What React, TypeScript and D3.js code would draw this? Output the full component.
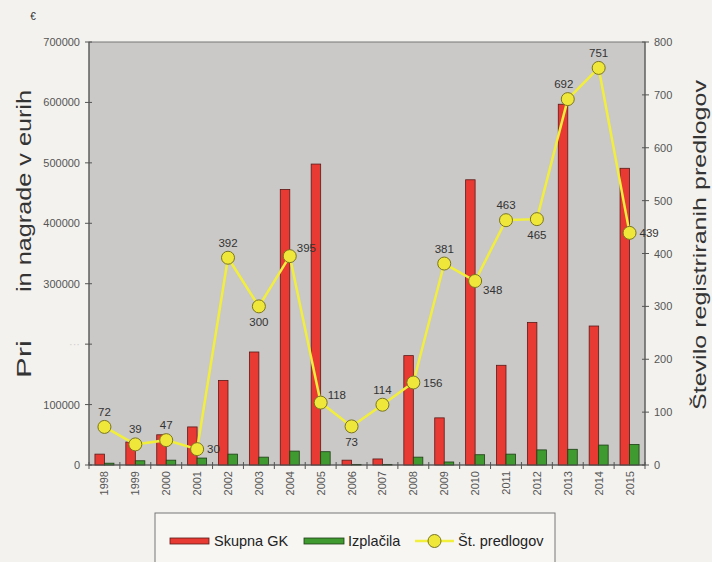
import React, { useRef, useEffect } from 'react';
import * as d3 from 'd3';

const years = ['1998', '1999', '2000', '2001', '2002', '2003', '2004', '2005', '2006', '2007', '2008', '2009', '2010', '2011', '2012', '2013', '2014', '2015'];
const skupnaGK = [18000, 38000, 50000, 63000, 140000, 187000, 456000, 498000, 8000, 10000, 181000, 78000, 472000, 165000, 236000, 597000, 230000, 491000];
const izplacila = [3000, 7000, 8000, 11500, 18000, 13000, 23000, 22000, 1000, 1000, 13000, 5000, 17000, 18000, 25000, 26000, 33000, 34000];
const predlogi = [72, 39, 47, 30, 392, 300, 395, 118, 73, 114, 156, 381, 348, 463, 465, 692, 751, 439];
// where each count label sits relative to its marker
const labelPos = ['t', 't', 't', 'r', 't', 'b', 'tr', 'tr', 'b', 't', 'r', 't', 'br', 't', 'b', 'tl', 't', 'r'];
const leftTicks = [0, 100000, 200000, 300000, 400000, 500000, 600000, 700000];
const rightTicks = [0, 100, 200, 300, 400, 500, 600, 700, 800];

const FONT = '"Liberation Sans", Arial, sans-serif';

const App: React.FC = () => {
  const svgRef = useRef<SVGSVGElement>(null);

  useEffect(() => {
    if (!svgRef.current) return;
    const svg = d3.select(svgRef.current);
    svg.selectAll('*').remove();

    const W = 712, H = 562;
    const L = 89, R = 645, T = 42, B = 465;

    svg.append('rect').attr('width', W).attr('height', H).attr('fill', '#f3f2ee');

    const x = d3.scaleBand().domain(years).range([L, R]);
    const yL = d3.scaleLinear().domain([0, 700000]).range([B, T]);
    const yR = d3.scaleLinear().domain([0, 800]).range([B, T]);

    // plot area
    svg.append('rect').attr('x', L).attr('y', T).attr('width', R - L).attr('height', B - T)
      .attr('fill', '#cac9c7').attr('stroke', '#777').attr('stroke-width', 1);

    const bw = 9.5;
    // bars
    svg.selectAll('.red').data(years).enter().append('rect')
      .attr('x', d => (x(d) || 0) + x.bandwidth() / 2 - bw)
      .attr('y', (_, i) => yL(skupnaGK[i]))
      .attr('width', bw)
      .attr('height', (_, i) => B - yL(skupnaGK[i]))
      .attr('fill', '#e83a33').attr('stroke', '#5a1a18').attr('stroke-width', 0.8);
    svg.selectAll('.green').data(years).enter().append('rect')
      .attr('x', d => (x(d) || 0) + x.bandwidth() / 2)
      .attr('y', (_, i) => yL(izplacila[i]))
      .attr('width', bw)
      .attr('height', (_, i) => B - yL(izplacila[i]))
      .attr('fill', '#3f9a2f').attr('stroke', '#1e3d16').attr('stroke-width', 0.8);

    // axes lines
    const axisColor = '#555';
    svg.append('line').attr('x1', L).attr('x2', L).attr('y1', T).attr('y2', B).attr('stroke', axisColor);
    svg.append('line').attr('x1', R).attr('x2', R).attr('y1', T).attr('y2', B).attr('stroke', axisColor);
    svg.append('line').attr('x1', L).attr('x2', R).attr('y1', B).attr('y2', B).attr('stroke', axisColor);

    // left ticks
    leftTicks.forEach(t => {
      svg.append('line').attr('x1', L - 4).attr('x2', L + 3).attr('y1', yL(t)).attr('y2', yL(t)).attr('stroke', axisColor);
      svg.append('text').attr('x', 80).attr('y', yL(t) + 4).attr('text-anchor', 'end')
        .attr('font-family', FONT).attr('font-size', 11).attr('fill', t === 200000 ? '#d0cfcb' : '#555')
        .text(t === 200000 ? '···' : String(t));
    });
    // right ticks
    rightTicks.forEach(t => {
      svg.append('line').attr('x1', R - 3).attr('x2', R + 4).attr('y1', yR(t)).attr('y2', yR(t)).attr('stroke', axisColor);
      svg.append('text').attr('x', 654).attr('y', yR(t) + 4).attr('text-anchor', 'start')
        .attr('font-family', FONT).attr('font-size', 11).attr('fill', '#555').text(String(t));
    });
    // x ticks at band boundaries
    years.concat(['end']).forEach((d, i) => {
      const xx = L + i * x.bandwidth();
      svg.append('line').attr('x1', xx).attr('x2', xx).attr('y1', B - 3).attr('y2', B + 4).attr('stroke', axisColor);
    });
    svg.selectAll('.xl').data(years).enter().append('text')
      .attr('transform', d => `translate(${(x(d) || 0) + x.bandwidth() / 2 + 4},471) rotate(-90)`)
      .attr('text-anchor', 'end').attr('font-family', FONT).attr('font-size', 11).attr('fill', '#555')
      .text(d => d);

    // line series
    const line = d3.line<number>()
      .x((_, i) => (x(years[i]) || 0) + x.bandwidth() / 2)
      .y(d => yR(d));
    svg.append('path').datum(predlogi).attr('d', line).attr('fill', 'none')
      .attr('stroke', '#f2ee3c').attr('stroke-width', 2.5);
    svg.selectAll('.pt').data(predlogi).enter().append('circle')
      .attr('cx', (_, i) => (x(years[i]) || 0) + x.bandwidth() / 2)
      .attr('cy', d => yR(d)).attr('r', 6.5)
      .attr('fill', '#efe83a').attr('stroke', '#7a7520').attr('stroke-width', 1);

    const off: Record<string, [number, number, string]> = {
      t: [0, -11, 'middle'], b: [0, 20, 'middle'], r: [10, 4, 'start'],
      tr: [7, -4, 'start'], br: [8, 13, 'start'], tl: [-4, -11, 'middle'],
    };
    svg.selectAll('.lbl').data(predlogi).enter().append('text')
      .attr('x', (_, i) => (x(years[i]) || 0) + x.bandwidth() / 2 + off[labelPos[i]][0])
      .attr('y', (d, i) => yR(d) + off[labelPos[i]][1])
      .attr('text-anchor', (_, i) => off[labelPos[i]][2])
      .attr('font-family', FONT).attr('font-size', 11.5).attr('fill', '#333')
      .text(d => String(d));

    // titles
    svg.append('text').attr('x', 33).attr('y', 20).attr('text-anchor', 'middle')
      .attr('font-family', FONT).attr('font-size', 10).attr('fill', '#333').text('€');
    svg.append('text').attr('transform', 'translate(31,292) rotate(-90)').attr('text-anchor', 'start')
      .attr('font-family', FONT).attr('font-size', 20).attr('fill', '#333')
      .attr('textLength', 202).attr('lengthAdjust', 'spacingAndGlyphs').text('in nagrade v eurih');
    svg.append('text').attr('transform', 'translate(31,378) rotate(-90)').attr('text-anchor', 'start')
      .attr('font-family', FONT).attr('font-size', 20).attr('fill', '#333')
      .attr('textLength', 38).attr('lengthAdjust', 'spacingAndGlyphs').text('Pri');
    svg.append('text').attr('transform', 'translate(706,410) rotate(-90)').attr('text-anchor', 'start')
      .attr('font-family', FONT).attr('font-size', 18).attr('fill', '#333')
      .attr('textLength', 330).attr('lengthAdjust', 'spacingAndGlyphs').text('Število registriranih predlogov');

    // legend
    const lg = svg.append('g');
    lg.append('rect').attr('x', 155).attr('y', 513).attr('width', 400).attr('height', 60)
      .attr('fill', '#f7f6f3').attr('stroke', '#777');
    lg.append('rect').attr('x', 170).attr('y', 538).attr('width', 39).attr('height', 6)
      .attr('fill', '#e83a33').attr('stroke', '#5a1a18').attr('stroke-width', 0.8);
    lg.append('text').attr('x', 214).attr('y', 546).attr('font-family', FONT).attr('font-size', 14.5).attr('fill', '#222').text('Skupna GK');
    lg.append('rect').attr('x', 304).attr('y', 538).attr('width', 40).attr('height', 6)
      .attr('fill', '#3f9a2f').attr('stroke', '#1e3d16').attr('stroke-width', 0.8);
    lg.append('text').attr('x', 348).attr('y', 546).attr('font-family', FONT).attr('font-size', 14.5).attr('fill', '#222').text('Izplačila');
    lg.append('line').attr('x1', 415).attr('x2', 454).attr('y1', 541).attr('y2', 541).attr('stroke', '#f2ee3c').attr('stroke-width', 2.5);
    lg.append('circle').attr('cx', 434.5).attr('cy', 541).attr('r', 6.5).attr('fill', '#efe83a').attr('stroke', '#7a7520');
    lg.append('text').attr('x', 458).attr('y', 546).attr('font-family', FONT).attr('font-size', 14.5).attr('fill', '#222').text('Št. predlogov');
  }, []);

  return (
    <svg ref={svgRef} width={712} height={562}
      style={{ position: 'absolute', left: 0, top: 0, display: 'block' }} />
  );
};

export default App;
